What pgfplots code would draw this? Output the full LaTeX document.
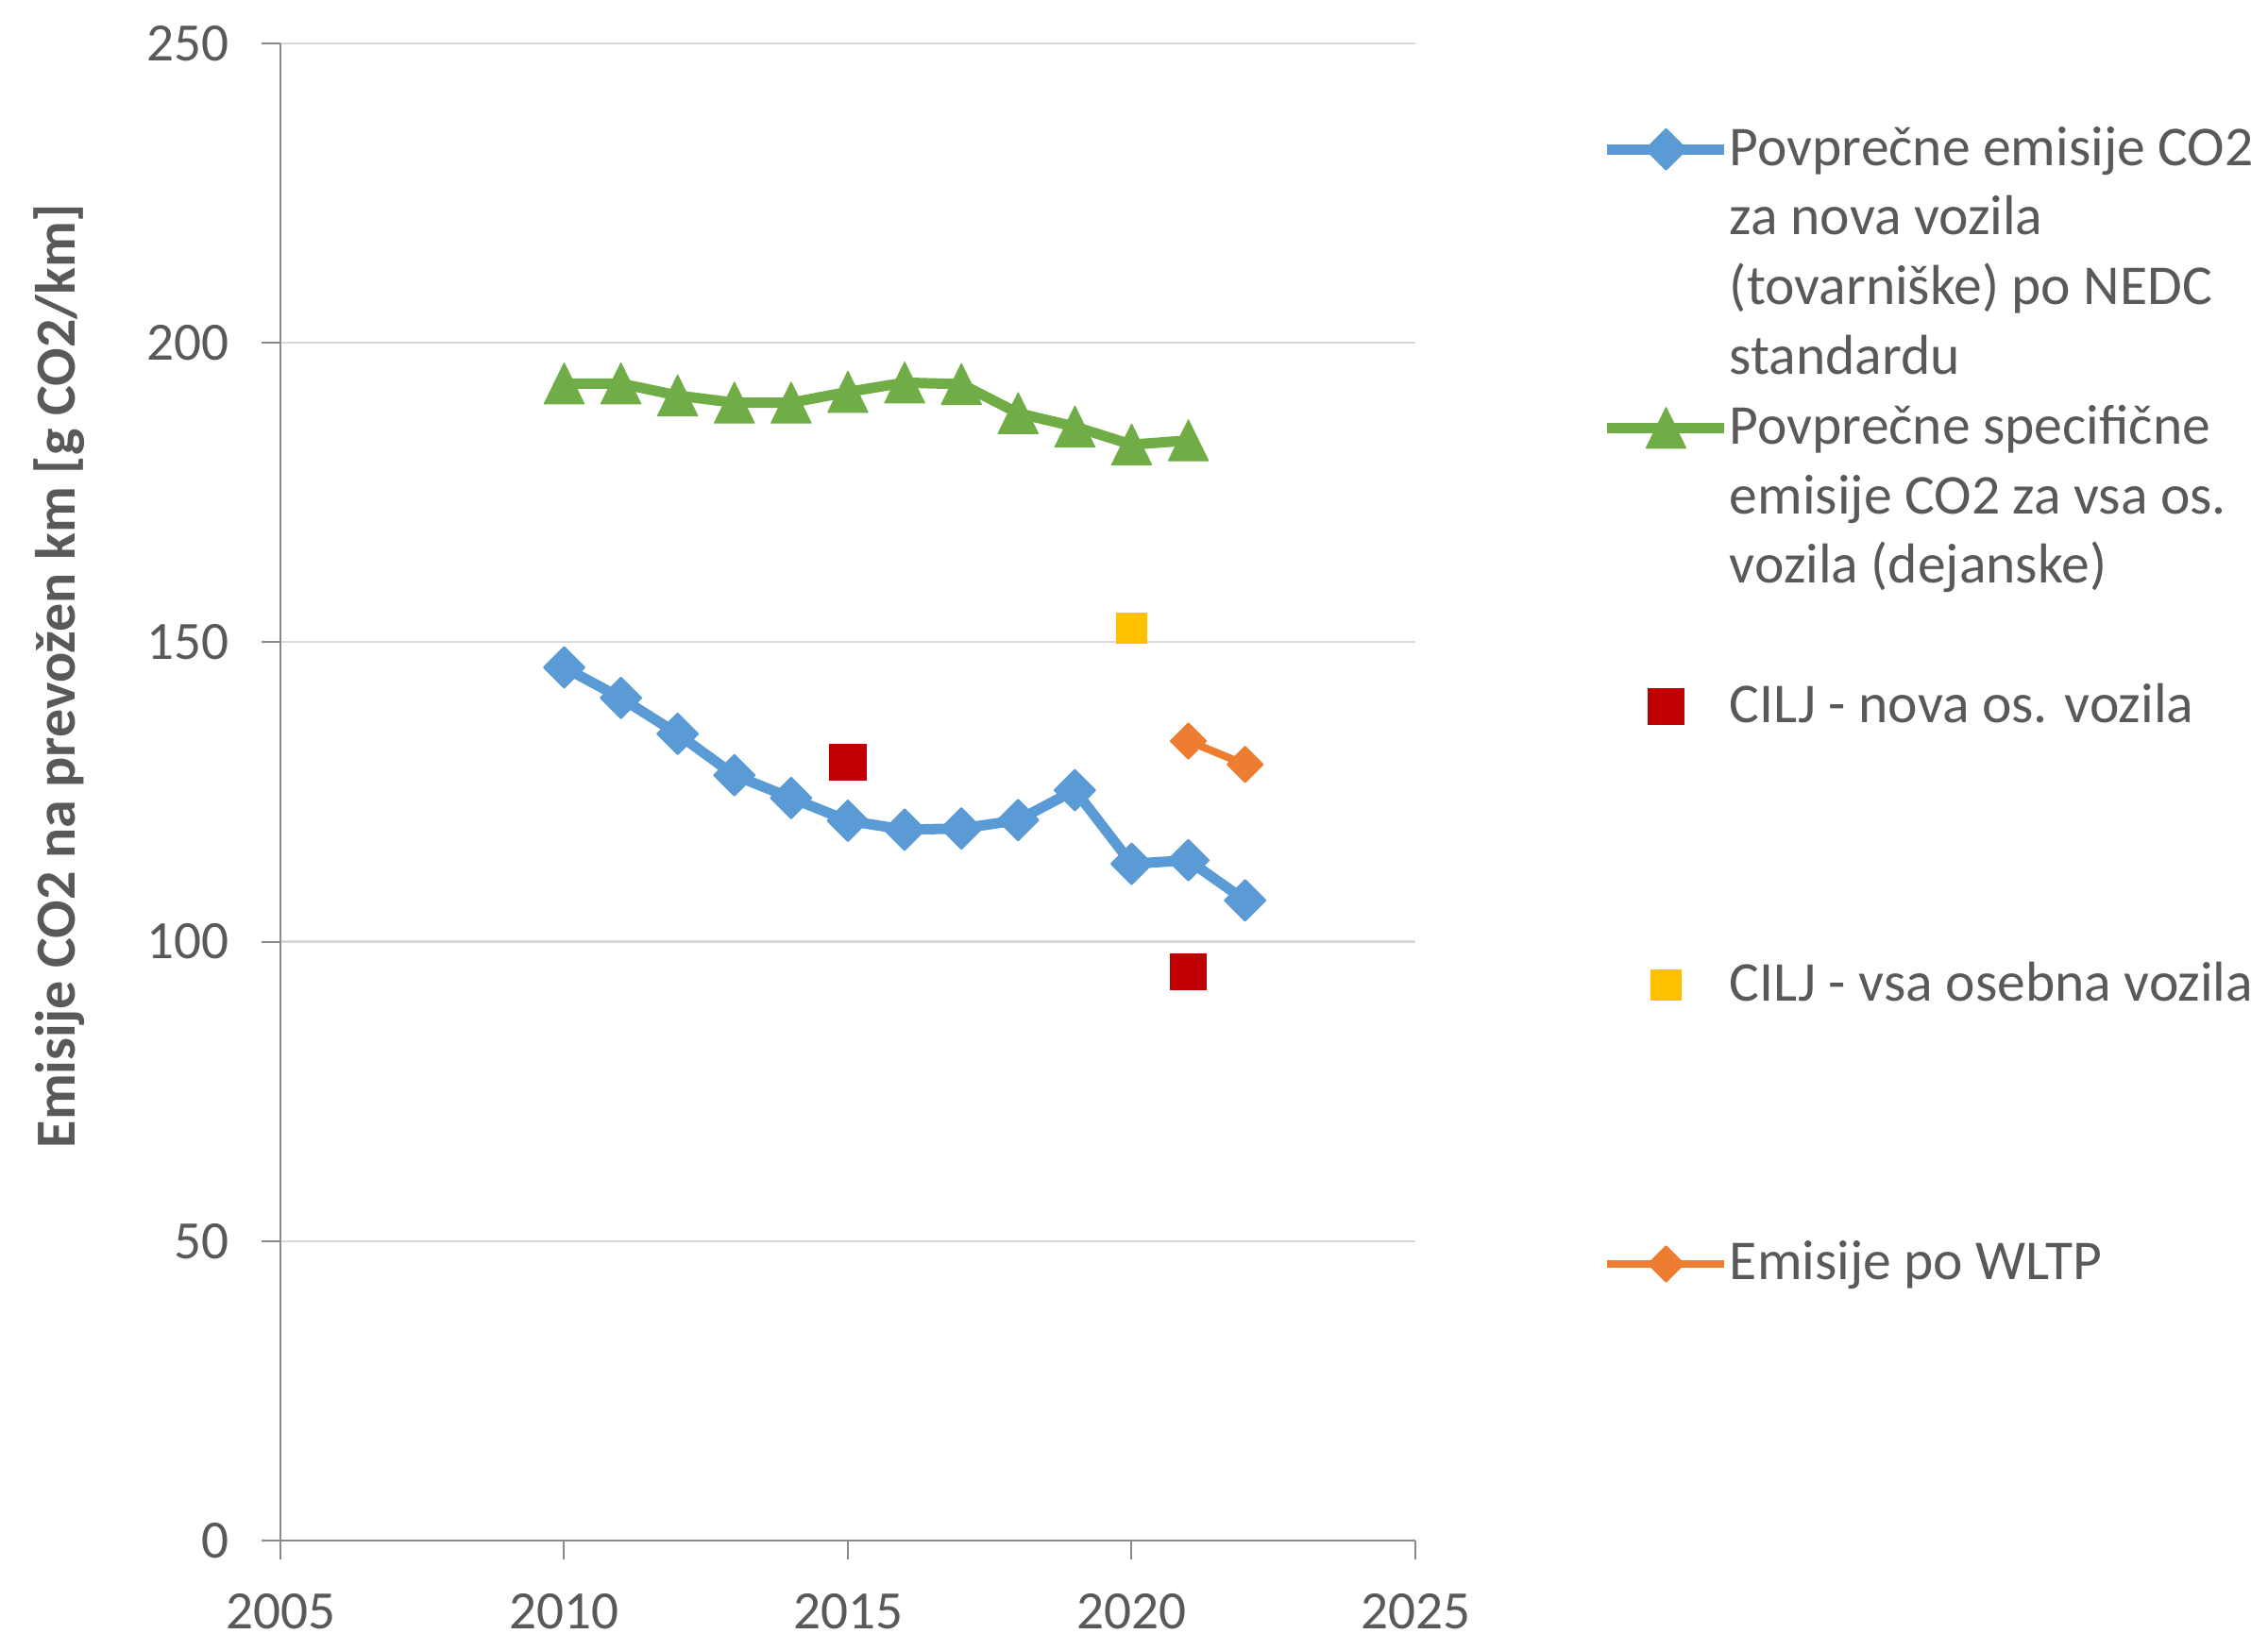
\documentclass[border=0pt]{standalone}
\usepackage{pgfplots}
\pgfplotsset{compat=1.18}
\usepackage{fontspec}
\setmainfont{Carlito}
\definecolor{cblue}{HTML}{5B9BD5}
\definecolor{cgreen}{HTML}{70AD47}
\definecolor{corange}{HTML}{ED7D31}
\definecolor{cred}{HTML}{C00000}
\definecolor{cyellow}{HTML}{FFC000}
\definecolor{textgray}{HTML}{595959}
\definecolor{axisgray}{HTML}{898989}
\definecolor{gridgray}{HTML}{D9D9D9}
\pgfplotsset{
  linelegend/.style={legend image code/.code={
    \draw[mark repeat=2,mark phase=2,##1] plot coordinates {(0pt,0pt) (15.5pt,0pt) (31pt,0pt)};}},
  marklegend/.style={legend image code/.code={
    \path (0pt,0pt) (31pt,0pt);
    \draw[##1] plot coordinates {(15.5pt,0pt)};}},
}
\begin{document}
\fontsize{14.5}{17.5}\selectfont
\begin{tikzpicture}
\path[use as bounding box] (0,0) rectangle (600.5pt,432.75pt);
\begin{axis}[
  at={(74.25pt,24.75pt)}, anchor=south west,
  scale only axis, width=300.5pt, height=396.5pt,
  xmin=2005, xmax=2025, ymin=0, ymax=250,
  xtick={2005,2010,2015,2020,2025},
  ytick={0,50,100,150,200,250},
  axis lines=left,
  axis line style={draw=axisgray, line width=0.7pt, -},
  ymajorgrids, grid style={draw=gridgray, line width=0.55pt},
  tick style={draw=axisgray, line width=0.5pt},
  tick align=outside, major tick length=5pt,
  /pgf/number format/assume math mode=true,
  /pgf/number format/1000 sep={},
  tick label style={font=\fontsize{14.3}{17}\selectfont, text=textgray},
  xticklabel style={anchor=north, inner sep=0pt, yshift=-8.8pt},
  yticklabel style={anchor=east, inner sep=0pt, xshift=-8.5pt},
  ylabel={\bfseries Emisije CO2 na prevožen km [g CO2/km]},
  ylabel style={at={(axis description cs:-0.1947,0.5776)}, anchor=center, rotate=0,
    font=\fontsize{15}{17}\selectfont, text=textgray},
  clip=false,
  legend style={at={(axis description cs:1.1647,0.9525)}, anchor=north west,
    draw=none, fill=none, inner sep=0pt, outer sep=0pt, row sep=0pt,
    font=\fontsize{14.9}{17.5}\selectfont, text=textgray,
    nodes={inner sep=0pt, text height=13.45pt, text depth=5pt},
    /tikz/every even column/.append style={column sep=2.5pt}},
  legend cell align=left,
]
\addplot[cblue, line width=2.75pt, line join=round, mark=square*,
  mark options={rotate=45, mark size=3.8pt, line width=0.5pt, fill=cblue}, linelegend]
  coordinates {(2010,145.8)(2011,140.7)(2012,134.7)(2013,127.8)(2014,124.0)(2015,120.2)(2016,118.7)(2017,118.9)(2018,120.3)(2019,125.3)(2020,113.0)(2021,113.6)(2022,106.9)};
\addlegendentry{Povprečne emisije CO2}
\addlegendimage{empty legend}\addlegendentry{za nova vozila}
\addlegendimage{empty legend}\addlegendentry{(tovarniške) po NEDC}
\addlegendimage{empty legend}\addlegendentry{standardu}
\addplot[cgreen, line width=2.75pt, line join=round, mark=triangle*,
  mark options={mark size=6.1pt, yscale=1.18, yshift=-1.5pt, line width=0.3pt, fill=cgreen}, linelegend]
  coordinates {(2010,193.2)(2011,193.2)(2012,191.2)(2013,190.0)(2014,190.0)(2015,191.8)(2016,193.35)(2017,193.1)(2018,188.25)(2019,186.0)(2020,183.0)(2021,183.7)};
\addlegendentry{Povprečne specifične}
\addlegendimage{empty legend}\addlegendentry{emisije CO2 za vsa os.}
\addlegendimage{empty legend}\addlegendentry{vozila (dejanske)}
\addlegendimage{empty legend}\addlegendentry{\mbox{}}
\addplot[only marks, mark=square*, mark size=4.75pt, mark options={draw=cred, fill=cred, line width=0.3pt}, marklegend]
  coordinates {(2015,130.0)(2021,95.0)};
\addlegendentry{CILJ - nova os. vozila}
\addlegendimage{empty legend}\addlegendentry{\mbox{}}
\addlegendimage{empty legend}\addlegendentry{\mbox{}}
\addlegendimage{empty legend}\addlegendentry{\mbox{}}
\addplot[only marks, mark=square*, mark size=4pt, mark options={draw=cyellow, fill=cyellow, line width=0.3pt}, marklegend]
  coordinates {(2020,152.3)};
\addlegendentry{CILJ - vsa osebna vozila}
\addlegendimage{empty legend}\addlegendentry{\mbox{}}
\addlegendimage{empty legend}\addlegendentry{\mbox{}}
\addlegendimage{empty legend}\addlegendentry{\mbox{}}
\addplot[corange, line width=2pt, line join=round, mark=square*,
  mark options={rotate=45, mark size=3.3pt, line width=0.5pt, fill=corange}, linelegend]
  coordinates {(2021,133.5)(2022,129.6)};
\addlegendentry{Emisije po WLTP}
\end{axis}
\end{tikzpicture}
\end{document}
